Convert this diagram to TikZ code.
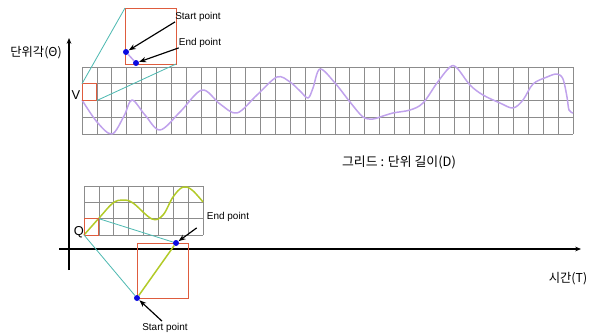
\documentclass[tikz,border=0pt]{standalone}
\usepackage{fontspec}
\setmainfont{Liberation Sans}
\newfontfamily\krfont{Noto Sans CJK KR}
\usetikzlibrary{arrows.meta}

\definecolor{gridgray}{RGB}{140,140,140}
\definecolor{boxred}{RGB}{222,92,62}
\definecolor{zoomteal}{RGB}{80,186,178}
\definecolor{wavepurple}{RGB}{192,162,236}
\definecolor{waveyellow}{RGB}{178,202,40}
\definecolor{dotblue}{RGB}{10,10,225}

\tikzset{
  axis/.style={line width=0.45mm, -{Stealth[length=5pt,width=4pt]}},
  cell/.style={draw=gridgray, line width=0.2mm},
  zoombox/.style={draw=boxred, line width=0.3mm},
  zoomline/.style={draw=zoomteal, line width=0.25mm},
  wave/.style={line width=0.45mm, line join=round},
  pdot/.style={circle, fill=dotblue, inner sep=0pt, minimum size=1.8mm},
  pointer/.style={line width=0.35mm, -{Stealth[length=6pt,width=4.5pt]}},
  ptlabel/.style={font=\fontsize{8.5}{9}\selectfont, inner sep=0pt},
  krlabel/.style={font=\krfont\fontsize{10.5}{12}\selectfont, inner sep=0pt},
  letter/.style={font=\fontsize{11}{12}\selectfont, inner sep=0pt}
}

\begin{document}
\begin{tikzpicture}[x=0.3mm,y=-0.3mm]
\useasboundingbox (0,0) rectangle (589,335);

% axes
\coordinate (ybot) at (69,270);
\coordinate (ytop) at (69,38);
\coordinate (xleft) at (59,249);
\coordinate (xright) at (581,249);
\draw[axis] (ybot) -- (ytop);
\draw[axis] (xleft) -- (xright);
\node[krlabel] (anglelab) at (36,53) {단위각(Θ)};
\node[krlabel] (timelab) at (568,279) {시간(T)};
\node[krlabel, font=\krfont\fontsize{11}{12}\selectfont] (gridlab) at (399,162) {그리드 : 단위 길이(D)};

% upper grid and wave
\foreach \i in {0,...,33}
  \draw[cell] (82+\i*14.879,67) -- (82+\i*14.879,134);
\foreach \j in {0,...,4}
  \draw[cell] (82,67+\j*16.75) -- (573,67+\j*16.75);
\draw[wave, wavepurple] plot[smooth, tension=0.55] coordinates {
  (82,100) (97,122) (112,134) (124,116) (132,100) (145,115) (160,130)
  (180,112) (202,90) (220,104) (237,113) (257,95) (277,77) (290,82)
  (300,91) (308,98) (313,88) (320,69) (335,83) (350,102) (363,117)
  (373,119) (380,117) (393,113) (410,110) (423,103) (437,83) (450,67)
  (457,68) (470,85) (483,95) (500,103) (513,108) (523,100) (533,84)
  (547,77) (557,74) (563,79) (567,97) (569,110) (573,113)};
\node[letter] (vlab) at (76,95) {V};

% upper zoom
\coordinate (vsmalla) at (82,83.75);
\coordinate (vsmallb) at (96.88,100.5);
\coordinate (vbiga) at (125,8);
\coordinate (vbigb) at (176,64);
\draw[zoombox] (vsmalla) rectangle (vsmallb);
\draw[zoombox] (vbiga) rectangle (vbigb);
\draw[zoomline] (vsmalla) -- (vbiga);
\draw[zoomline] (vsmallb) -- (vbigb);
\node[pdot] (vstart) at (126,52) {};
\node[pdot] (vend) at (136,63) {};
\draw[wave, wavepurple] (vstart) -- (vend);
\node[ptlabel] (vstartlab) at (198,17) {Start point};
\node[ptlabel] (vendlab) at (200,43) {End point};
\draw[pointer] (vstartlab.south west) -- (vstart);
\draw[pointer] (vendlab.south west) -- (vend);

% lower grid and wave
\foreach \i in {0,...,8}
  \draw[cell] (84+\i*14.875,186) -- (84+\i*14.875,235);
\foreach \j in {0,...,3}
  \draw[cell] (84,186+\j*16.33) -- (203,186+\j*16.33);
\draw[wave, waveyellow] plot[smooth, tension=0.6] coordinates {
  (84,235) (100,217) (113,203) (123,200) (133,203) (152,219)
  (163,215) (173,197) (183,187) (192,190) (203,202)};
\node[letter] (qlab) at (79,232) {Q};

% lower zoom
\coordinate (qsmalla) at (84,235);
\coordinate (qsmallb) at (98.88,218.67);
\draw[zoombox] (84,218.67) rectangle (98.88,235);
\draw[zoombox] (137,243) rectangle (188,298);
\node[pdot] (qstart) at (137,298) {};
\node[pdot] (qend) at (176,243) {};
\draw[zoomline] (qsmalla) -- (qstart);
\draw[zoomline] (qsmallb) -- (qend);
\draw[wave, waveyellow] (qstart) -- (qend);
\node[ptlabel] (qendlab) at (228,217) {End point};
\node[ptlabel] (qstartlab) at (165,328) {Start point};
\draw[pointer] ([shift={(-10,6)}]qendlab.south west) -- (qend);
\draw[pointer] ([shift={(-3,-2)}]qstartlab.north) -- (qstart);
\end{tikzpicture}
\end{document}
